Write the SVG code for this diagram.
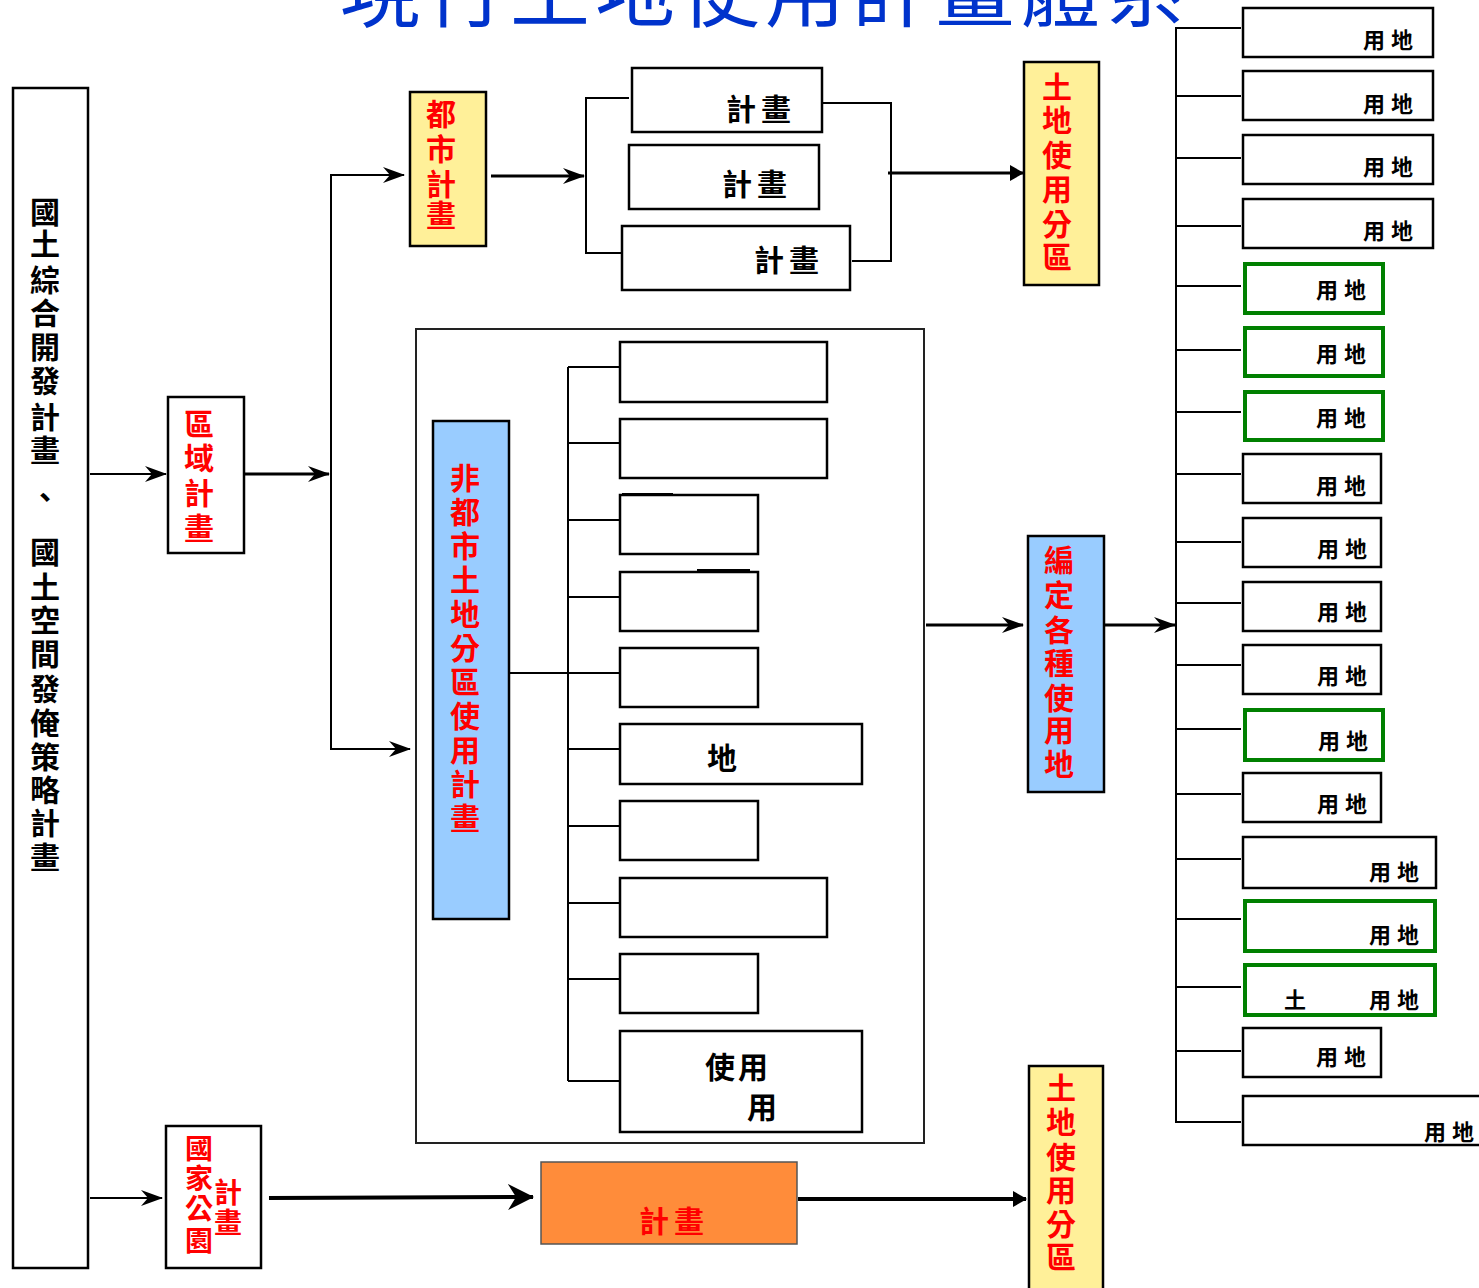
<svg xmlns="http://www.w3.org/2000/svg" width="1479" height="1288" viewBox="0 0 1479 1288">
<style>
.t{font-family:"Noto Sans CJK TC","Noto Sans CJK SC",sans-serif;font-weight:bold}
.c{text-anchor:middle}
.s30{font-size:30px}
.s28{font-size:28px}
.s22{font-size:22px;letter-spacing:6px}
.red{fill:#ff0000}
.blk{fill:#000}
.box{fill:#fff;stroke:#000;stroke-width:2.5}
.yel{fill:#fff099;stroke:#000;stroke-width:2.5}
.blu{fill:#99ccff;stroke:#000;stroke-width:2.5}
.grn{fill:#fff;stroke:#008000;stroke-width:4}
.ln{fill:none;stroke:#000;stroke-width:2}
.th{fill:none;stroke:#000;stroke-width:3}
.tk{fill:none;stroke:#000;stroke-width:4}
</style>
<defs>
<marker id="a" viewBox="0 0 22 16" markerWidth="22" markerHeight="16" refX="21" refY="8" orient="auto" markerUnits="userSpaceOnUse"><path d="M0,0 L22,8 L0,16 L7,8 z" fill="#000"/></marker>
<marker id="b" viewBox="0 0 26 26" markerWidth="26" markerHeight="26" refX="25" refY="13" orient="auto" markerUnits="userSpaceOnUse"><path d="M0,0 L26,13 L0,26 L8,13 z" fill="#000"/></marker>
<marker id="c" viewBox="0 0 14 16" markerWidth="14" markerHeight="16" refX="13" refY="8" orient="auto" markerUnits="userSpaceOnUse"><path d="M0,0 L14,8 L0,16 z" fill="#000"/></marker>
</defs>
<rect width="1479" height="1288" fill="#fff"/>

<text id="title" x="340" y="20" font-family="'Noto Sans CJK TC','Noto Sans CJK SC',sans-serif" font-size="80" letter-spacing="5" fill="#0033cc">現行土地使用計畫體系</text>

<g id="connectors">
<line class="ln" x1="90" y1="474" x2="166" y2="474" marker-end="url(#a)"/>
<line class="th" x1="245" y1="474" x2="329" y2="474" marker-end="url(#a)"/>
<polyline class="ln" points="404,175 331,175 331,749 409,749"/>
<line class="ln" x1="331" y1="175" x2="404" y2="175" marker-end="url(#a)"/>
<line class="ln" x1="331" y1="749" x2="410" y2="749" marker-end="url(#a)"/>
<line class="th" x1="491" y1="176" x2="584" y2="176" marker-end="url(#a)"/>
<polyline class="ln" points="629,98 586,98 586,253 626,253"/>
<polyline class="ln" points="822,103 891,103 891,261 852,261"/>
<line class="th" x1="888" y1="173" x2="1023" y2="173" marker-end="url(#c)"/>
<line class="ln" x1="509" y1="673" x2="568" y2="673"/>
<line class="ln" x1="568" y1="367" x2="568" y2="1081"/>
<path class="ln" d="M568,367H620M568,443H620M568,520H620M568,597H620M568,673H620M568,749H620M568,826H620M568,903H620M568,979H620M568,1081H620"/>
<line class="th" x1="926" y1="625" x2="1023" y2="625" marker-end="url(#a)"/>
<line class="th" x1="1105" y1="625" x2="1175" y2="625" marker-end="url(#a)"/>
<line class="ln" x1="1176" y1="27" x2="1176" y2="1123"/>
<path class="ln" d="M1176,28H1241M1176,96H1241M1176,158H1241M1176,226H1241M1176,286H1241M1176,350H1241M1176,412H1241M1176,474H1241M1176,542H1241M1176,603H1241M1176,665H1241M1176,729H1241M1176,794H1241M1176,859H1241M1176,919H1241M1176,987H1241M1176,1051H1241M1176,1122H1241"/>
<line class="ln" x1="90" y1="1198" x2="162" y2="1198" marker-end="url(#a)"/>
<line class="tk" x1="269" y1="1198" x2="533" y2="1197" marker-end="url(#b)"/>
<line class="tk" x1="798" y1="1199" x2="1026" y2="1199" marker-end="url(#c)"/>
</g>

<g id="n-national">
<rect class="box" x="13" y="88" width="75" height="1180"/>
<text class="t c s30 blk"><tspan x="45" y="223">國</tspan><tspan x="45" y="255">土</tspan><tspan x="45" y="291">綜</tspan><tspan x="45" y="324">合</tspan><tspan x="45" y="358">開</tspan><tspan x="45" y="392">發</tspan><tspan x="45" y="428">計</tspan><tspan x="45" y="461">畫</tspan><tspan x="45" y="508">、</tspan><tspan x="45" y="563">國</tspan><tspan x="45" y="598">土</tspan><tspan x="45" y="631">空</tspan><tspan x="45" y="665">間</tspan><tspan x="45" y="700">發</tspan><tspan x="45" y="734">俺</tspan><tspan x="45" y="768">策</tspan><tspan x="45" y="801">略</tspan><tspan x="45" y="834">計</tspan><tspan x="45" y="868">畫</tspan></text>
</g>

<g id="n-regional">
<rect class="box" x="168" y="397" width="76" height="156"/>
<text class="t c s30 red"><tspan x="199" y="435">區</tspan><tspan x="199" y="469">域</tspan><tspan x="199" y="504">計</tspan><tspan x="199" y="539">畫</tspan></text>
</g>

<g id="n-urban">
<rect class="yel" x="410" y="92" width="76" height="154"/>
<text class="t c s30 red"><tspan x="441" y="125">都</tspan><tspan x="441" y="160">市</tspan><tspan x="441" y="195">計</tspan><tspan x="441" y="226">畫</tspan></text>
</g>

<g id="n-plan1">
<rect class="box" x="632" y="68" width="190" height="64"/>
<text class="t s30 blk" x="726" y="120" letter-spacing="5">計畫</text>
</g>
<g id="n-plan2">
<rect class="box" x="629" y="145" width="190" height="64"/>
<text class="t s30 blk" x="722" y="195" letter-spacing="5">計畫</text>
</g>
<g id="n-plan3">
<rect class="box" x="622" y="226" width="228" height="64"/>
<text class="t s30 blk" x="754" y="271" letter-spacing="5">計畫</text>
</g>

<g id="n-zoning-top">
<rect class="yel" x="1024" y="62" width="75" height="223"/>
<text class="t c s30 red"><tspan x="1057" y="98">土</tspan><tspan x="1057" y="131">地</tspan><tspan x="1057" y="166">使</tspan><tspan x="1057" y="200">用</tspan><tspan x="1057" y="235">分</tspan><tspan x="1057" y="268">區</tspan></text>
</g>

<g id="n-container">
<rect fill="none" stroke="#222" stroke-width="2" x="416" y="329" width="508" height="814"/>
</g>

<g id="n-nonurban">
<rect class="blu" x="433" y="421" width="76" height="498"/>
<text class="t c s30 red"><tspan x="465" y="489">非</tspan><tspan x="465" y="523">都</tspan><tspan x="465" y="557">市</tspan><tspan x="465" y="591">土</tspan><tspan x="465" y="625">地</tspan><tspan x="465" y="659">分</tspan><tspan x="465" y="693">區</tspan><tspan x="465" y="727">使</tspan><tspan x="465" y="761">用</tspan><tspan x="465" y="795">計</tspan><tspan x="465" y="829">畫</tspan></text>
</g>

<g id="n-zone1"><rect class="box" x="620" y="342" width="207" height="60"/></g>
<g id="n-zone2"><rect class="box" x="620" y="419" width="207" height="59"/></g>
<g id="n-zone3"><rect class="box" x="620" y="495" width="138" height="59"/><line class="ln" x1="622" y1="494" x2="673" y2="494"/></g>
<g id="n-zone4"><rect class="box" x="620" y="572" width="138" height="59"/><line class="ln" x1="697" y1="570" x2="750" y2="570"/></g>
<g id="n-zone5"><rect class="box" x="620" y="648" width="138" height="59"/></g>
<g id="n-zone6"><rect class="box" x="620" y="724" width="242" height="60"/><text class="t c s30 blk" x="722" y="769">地</text></g>
<g id="n-zone7"><rect class="box" x="620" y="801" width="138" height="59"/></g>
<g id="n-zone8"><rect class="box" x="620" y="878" width="207" height="59"/></g>
<g id="n-zone9"><rect class="box" x="620" y="954" width="138" height="59"/></g>
<g id="n-zone10"><rect class="box" x="620" y="1031" width="242" height="101"/><text class="t s30 blk" x="705" y="1078" letter-spacing="3">使用</text><text class="t c s30 blk" x="762" y="1118">用</text></g>

<g id="n-landuse">
<rect class="blu" x="1028" y="536" width="76" height="256"/>
<text class="t c s30 red"><tspan x="1059" y="571">編</tspan><tspan x="1059" y="606">定</tspan><tspan x="1059" y="641">各</tspan><tspan x="1059" y="674">種</tspan><tspan x="1059" y="709">使</tspan><tspan x="1059" y="741">用</tspan><tspan x="1059" y="775">地</tspan></text>
</g>

<g id="n-u1"><rect class="box" x="1243" y="8" width="190" height="49"/><text class="t s22 blk" x="1363" y="48">用地</text></g>
<g id="n-u2"><rect class="box" x="1243" y="71" width="190" height="49"/><text class="t s22 blk" x="1363" y="112">用地</text></g>
<g id="n-u3"><rect class="box" x="1243" y="135" width="190" height="49"/><text class="t s22 blk" x="1363" y="175">用地</text></g>
<g id="n-u4"><rect class="box" x="1243" y="199" width="190" height="49"/><text class="t s22 blk" x="1363" y="239">用地</text></g>
<g id="n-u5"><rect class="grn" x="1245" y="264" width="138" height="49"/><text class="t s22 blk" x="1316" y="298">用地</text></g>
<g id="n-u6"><rect class="grn" x="1245" y="328" width="138" height="48"/><text class="t s22 blk" x="1316" y="362">用地</text></g>
<g id="n-u7"><rect class="grn" x="1245" y="392" width="138" height="48"/><text class="t s22 blk" x="1316" y="426">用地</text></g>
<g id="n-u8"><rect class="box" x="1243" y="454" width="138" height="49"/><text class="t s22 blk" x="1316" y="494">用地</text></g>
<g id="n-u9"><rect class="box" x="1243" y="518" width="138" height="49"/><text class="t s22 blk" x="1317" y="557">用地</text></g>
<g id="n-u10"><rect class="box" x="1243" y="582" width="138" height="49"/><text class="t s22 blk" x="1317" y="620">用地</text></g>
<g id="n-u11"><rect class="box" x="1243" y="645" width="138" height="49"/><text class="t s22 blk" x="1317" y="684">用地</text></g>
<g id="n-u12"><rect class="grn" x="1245" y="710" width="138" height="50"/><text class="t s22 blk" x="1318" y="749">用地</text></g>
<g id="n-u13"><rect class="box" x="1243" y="773" width="138" height="49"/><text class="t s22 blk" x="1317" y="812">用地</text></g>
<g id="n-u14"><rect class="box" x="1243" y="837" width="193" height="51"/><text class="t s22 blk" x="1369" y="880">用地</text></g>
<g id="n-u15"><rect class="grn" x="1245" y="901" width="190" height="50"/><text class="t s22 blk" x="1369" y="943">用地</text></g>
<g id="n-u16"><rect class="grn" x="1245" y="965" width="190" height="50"/><text class="t c s22 blk" x="1298" y="1008" letter-spacing="0">土</text><text class="t s22 blk" x="1369" y="1008">用地</text></g>
<g id="n-u17"><rect class="box" x="1243" y="1028" width="138" height="49"/><text class="t s22 blk" x="1316" y="1065">用地</text></g>
<g id="n-u18"><rect class="box" x="1243" y="1096" width="250" height="49"/><text class="t s22 blk" x="1424" y="1140">用地</text></g>

<g id="n-park">
<rect class="box" x="166" y="1126" width="95" height="142"/>
<text class="t c s28 red"><tspan x="199" y="1159">國</tspan><tspan x="199" y="1189">家</tspan><tspan x="199" y="1219">公</tspan><tspan x="199" y="1251">園</tspan><tspan x="228" y="1203">計</tspan><tspan x="228" y="1233">畫</tspan></text>
</g>

<g id="n-parkplan">
<rect fill="#ff8c3a" stroke="#555" stroke-width="1.5" x="541" y="1162" width="256" height="82"/>
<text class="t s30 red" x="639" y="1232" letter-spacing="5">計畫</text>
</g>

<g id="n-zoning-bottom">
<rect class="yel" x="1029" y="1066" width="74" height="230"/>
<text class="t c s30 red"><tspan x="1061" y="1099">土</tspan><tspan x="1061" y="1133">地</tspan><tspan x="1061" y="1168">使</tspan><tspan x="1061" y="1201">用</tspan><tspan x="1061" y="1235">分</tspan><tspan x="1061" y="1268">區</tspan></text>
</g>
</svg>
